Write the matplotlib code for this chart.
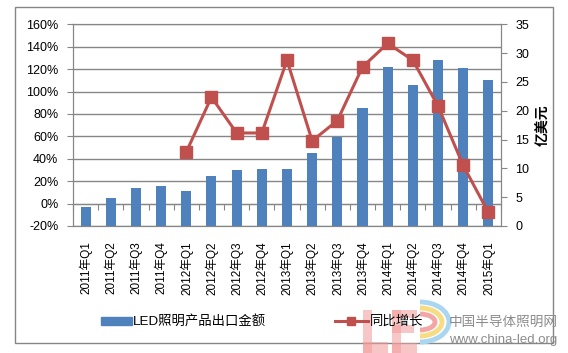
import matplotlib.pyplot as plt
import matplotlib.patches as mpatches
from matplotlib.lines import Line2D
import numpy as np

plt.rcParams['font.family'] = ['Liberation Sans', 'Noto Sans CJK SC']

##### data
quarters = ['2011年Q1', '2011年Q2', '2011年Q3', '2011年Q4',
            '2012年Q1', '2012年Q2', '2012年Q3', '2012年Q4',
            '2013年Q1', '2013年Q2', '2013年Q3', '2013年Q4',
            '2014年Q1', '2014年Q2', '2014年Q3', '2014年Q4',
            '2015年Q1']
export_value = [3.2, 4.9, 6.6, 6.9, 6.1, 8.7, 9.7, 9.9, 9.9, 12.6, 15.4,
                20.5, 27.6, 24.5, 28.8, 27.4, 25.4]   # 亿美元
yoy_growth = [np.nan, np.nan, np.nan, np.nan, 46, 95, 63, 63, 128, 56, 74,
              122, 143, 128, 87, 34, -8]             # %

bar_label = 'LED照明产品出口金额'
line_label = '同比增长'

blue = '#4F81BD'
red = '#C0504D'
grey = '#868686'

x = np.arange(len(quarters))
W, H = 568.0, 353.0

fig = plt.figure(figsize=(5.68, 3.53), dpi=100)

### watermark / border layer (pixel coords, drawn first)
bg = fig.add_axes([0, 0, 1, 1])
bg.set_xlim(0, W)
bg.set_ylim(H, 0)
bg.axis('off')
bg.add_patch(mpatches.Rectangle((15, 7), 538, 336, fill=False,
                                edgecolor=grey, linewidth=1))
pink = '#f29a9a'
for (x0, y0, w, h) in [(363, 310, 9, 45), (363, 342, 25, 13),     # L
                       (392, 310, 9, 45), (392, 310, 25, 8),      # E
                       (392, 325, 22, 8), (392, 343, 25, 12)]:
    bg.add_patch(mpatches.Rectangle((x0, y0), w, h, color=pink, alpha=0.55,
                                    linewidth=0))
for (w, h, c) in [(58, 40, '#a9d6f0'), (44, 28, '#f6dc82'), (30, 16, '#f4a6a6')]:
    bg.add_patch(mpatches.Arc((420, 322), w, h, theta1=-90, theta2=90,
                              color=c, linewidth=3.5))
bg.text(449, 322, '中国半导体照明网', fontsize=9.8, color='#8c8c8c',
        va='center', ha='left')
bg.text(449, 340, 'www.china-led.org', fontsize=9.5, color='#8c8c8c',
        va='center', ha='left')

ax = fig.add_axes([0.1285, 0.36, 0.7535, 0.571])

### left axis: percent, grid
ax.set_ylim(-20, 160)
ax.set_yticks(np.arange(-20, 161, 20))
ax.set_yticklabels([str(v) + '%' for v in range(-20, 161, 20)])
ax.set_xlim(-0.5, len(quarters) - 0.5)
ax.yaxis.grid(True, color=grey, linewidth=1)
ax.set_axisbelow(True)
ax.set_xticks(x)
ax.set_xticklabels(quarters, rotation=90, fontsize=8.5)
ax.tick_params(axis='x', length=0, pad=11)
ax.tick_params(axis='y', length=4, color=grey, labelsize=9, pad=6.5)
for s in ax.spines.values():
    s.set_color(grey)

### category tick marks sitting on the 0% line
sec = ax.secondary_xaxis((0 - (-20)) / 180.0)
sec.set_xticks(np.arange(-0.5, len(quarters), 1.0))
sec.set_xticklabels([])
sec.tick_params(axis='x', length=4, color=grey, direction='out')
sec.spines['bottom'].set_color(grey)

### right axis: bars
ax2 = ax.twinx()
ax2.bar(x, export_value, width=0.4, color=blue, zorder=2)
ax2.set_ylim(0, 35)
ax2.set_yticks(np.arange(0, 36, 5))
ax2.tick_params(axis='y', length=4, color=grey, labelsize=9, pad=6.5)
ax2.set_ylabel('亿美元', rotation=90, fontsize=10, fontweight='bold', labelpad=5)
for s in ax2.spines.values():
    s.set_color(grey)

### line on top
ax3 = ax.twinx()
ax3.set_ylim(-20, 160)
ax3.plot(x, yoy_growth, color=red, linewidth=2.2, marker='s', markersize=8,
         markerfacecolor=red, markeredgecolor=red)
ax3.set_yticks([])
for s in ax3.spines.values():
    s.set_visible(False)

### legend (two entries placed separately)
leg1 = fig.legend(handles=[mpatches.Patch(color=blue, label=bar_label)],
                  loc='center left', bbox_to_anchor=(101 / W, 1 - 322 / H),
                  frameon=False, fontsize=9.6, handlelength=2.35, handleheight=0.5,
                  handletextpad=0.05, borderpad=0, borderaxespad=0)
leg2 = fig.legend(handles=[Line2D([], [], color=red, linewidth=2.2, marker='s',
                                  markersize=6, label=line_label)],
                  loc='center left', bbox_to_anchor=(335 / W, 1 - 322 / H),
                  frameon=False, fontsize=9.6, handlelength=2.45,
                  handletextpad=0.15, borderpad=0, borderaxespad=0)

fig.savefig('out.png', dpi=100)
